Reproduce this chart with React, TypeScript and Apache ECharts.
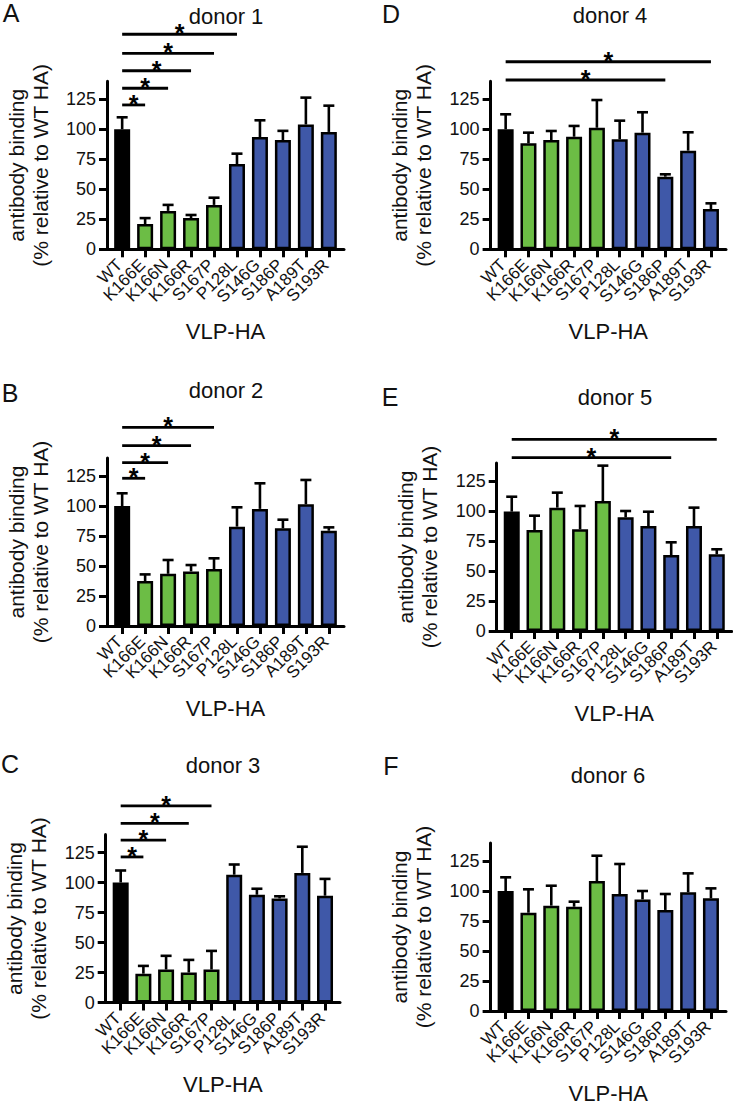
import React, { useEffect, useRef } from "react";
import * as echarts from "echarts";

const categories = ["WT", "K166E", "K166N", "K166R", "S167P", "P128L", "S146G", "S186P", "A189T", "S193R"];
const colorGroups = ["wt", "green", "green", "green", "green", "blue", "blue", "blue", "blue", "blue"];
const yTickValues = [0, 25, 50, 75, 100, 125];
const xTickValues = [0, 1, 2, 3, 4, 5, 6, 7, 8, 9];

const donor1Values = [100, 21, 32, 26, 37, 71, 93.5, 91, 104, 97.8];
const donor1Errors = [10, 5, 5, 2.6, 6, 8.7, 14, 7.7, 22.4, 21.9];
const donor1Sig = [[0, 1, 120.3], [0, 2, 134.2], [0, 3, 148.8], [0, 4, 163.3], [0, 5, 179.2]];

const donor2Values = [100, 37.5, 43.5, 45.5, 47.5, 82.8, 97.6, 81.4, 101.4, 79.4];
const donor2Errors = [10.6, 5.5, 11.5, 5.3, 8.9, 16.1, 21.3, 7.2, 20.3, 2.8];
const donor2Sig = [[0, 1, 123.1], [0, 2, 136.1], [0, 3, 150.3], [0, 4, 165.6]];

const donor3Values = [100, 24, 27.5, 25, 27.5, 106.5, 89.8, 86.7, 108, 89];
const donor3Errors = [10, 6.5, 11.4, 10.5, 15.5, 8.5, 5, 1.8, 21.8, 14];
const donor3Sig = [[0, 1, 121.3], [0, 2, 135.3], [0, 3, 149.2], [0, 4, 163.8]];

const donor4Values = [100, 88.3, 91, 93.8, 101.3, 91.7, 97.2, 60.5, 82.2, 33.6];
const donor4Errors = [12.5, 8.9, 7.6, 9, 23.1, 15.5, 17, 2, 15.3, 4.7];
const donor4Sig = [[0, 7, 141.1], [0, 9, 156.3]];

const donor5Values = [99.5, 84.2, 102.8, 84.7, 108.3, 94.7, 87.5, 63.3, 87.5, 63.9];
const donor5Errors = [12.4, 11.9, 12.5, 19.5, 29.5, 5.3, 11.9, 10.6, 15.3, 4.2];
const donor5Sig = [[0, 7, 144.4], [0, 9, 159.75]];

const donor6Values = [100, 81.9, 87.8, 86.9, 108.3, 97.5, 93, 84.2, 98.9, 93.9];
const donor6Errors = [11.4, 19.5, 16.6, 4.2, 21.1, 25, 7, 13.3, 15.8, 8.3];
const donor6Sig: number[][] = [];

const FONT = "'Liberation Sans', Arial, Helvetica, sans-serif";
const COLORS: Record<string, string> = { wt: "#000000", green: "#6cbd45", blue: "#3f58a8" };
const X_MIN = -0.66;
const X_MAX = 9.66;

const panels = [
  { letter: "A", title: "donor 1", values: donor1Values, errors: donor1Errors, sig: donor1Sig,
    grid: { left: 107, top: 81.3, width: 237, height: 168 }, titlePos: [226, 16], letterPos: [11, 13] },
  { letter: "B", title: "donor 2", values: donor2Values, errors: donor2Errors, sig: donor2Sig,
    grid: { left: 107, top: 458, width: 237, height: 168 }, titlePos: [226, 390], letterPos: [10, 393] },
  { letter: "C", title: "donor 3", values: donor3Values, errors: donor3Errors, sig: donor3Sig,
    grid: { left: 105.7, top: 834.5, width: 234.3, height: 168 }, titlePos: [223, 765], letterPos: [10, 764] },
  { letter: "D", title: "donor 4", values: donor4Values, errors: donor4Errors, sig: donor4Sig,
    grid: { left: 490.6, top: 81.3, width: 235.4, height: 168 }, titlePos: [610, 15], letterPos: [391, 14] },
  { letter: "E", title: "donor 5", values: donor5Values, errors: donor5Errors, sig: donor5Sig,
    grid: { left: 496.7, top: 463, width: 235.1, height: 168 }, titlePos: [615, 397], letterPos: [390, 397] },
  { letter: "F", title: "donor 6", values: donor6Values, errors: donor6Errors, sig: donor6Sig,
    grid: { left: 490.6, top: 843, width: 235.4, height: 168 }, titlePos: [608, 775], letterPos: [391, 766] },
];

function buildOption() {
  const grid: any[] = [];
  const xAxis: any[] = [];
  const yAxis: any[] = [];
  const series: any[] = [];
  const graphic: any[] = [];
  const n = panels.length;

  // main grids (bars, value x axis)
  panels.forEach((p) => grid.push({ ...p.grid }));
  // label grids: category bands aligned with the value-axis ticks
  panels.forEach((p) => {
    const u = p.grid.width / (X_MAX - X_MIN);
    grid.push({
      left: p.grid.left + (-0.5 - X_MIN) * u,
      width: categories.length * u,
      top: p.grid.top,
      height: p.grid.height,
    });
  });

  panels.forEach((p, i) => {
    xAxis.push({
      type: "value",
      gridIndex: i,
      min: X_MIN,
      max: X_MAX,
      name: "VLP-HA",
      nameLocation: "middle",
      nameGap: 71,
      nameTextStyle: { fontFamily: FONT, fontSize: 22, color: "#111" },
      splitLine: { show: false },
      axisLine: { show: true, onZero: false, lineStyle: { color: "#000", width: 3 } },
      axisTick: { show: true, customValues: xTickValues, length: 8, lineStyle: { color: "#000", width: 3 } },
      axisLabel: { show: false },
    });
    yAxis.push({
      type: "value",
      gridIndex: i,
      min: 0,
      max: 140,
      name: "antibody binding\n(% relative to WT HA)",
      nameLocation: "middle",
      nameGap: 55,
      nameTextStyle: { fontFamily: FONT, fontSize: 21, lineHeight: 24, color: "#111" },
      splitLine: { show: false },
      axisLine: { show: true, onZero: false, lineStyle: { color: "#000", width: 3 } },
      axisTick: { show: true, customValues: yTickValues, length: 8, lineStyle: { color: "#000", width: 3 } },
      axisLabel: { customValues: yTickValues, showMinLabel: true, margin: 11, fontFamily: FONT, fontSize: 18, color: "#111" },
    });
  });

  panels.forEach((p, i) => {
    xAxis.push({
      type: "category",
      gridIndex: n + i,
      data: categories,
      axisLine: { show: false },
      axisTick: { show: false },
      splitLine: { show: false },
      axisLabel: {
        interval: 0,
        rotate: 45,
        margin: 10,
        padding: [0, 4, 0, 0],
        fontFamily: FONT,
        fontSize: 17,
        color: "#111",
      },
    });
    yAxis.push({ type: "value", gridIndex: n + i, show: false, min: 0, max: 140 });
  });

  panels.forEach((p, i) => {
    series.push({
      type: "bar",
      xAxisIndex: i,
      yAxisIndex: i,
      barWidth: 16,
      data: p.values.map((v, k) => ({
        value: [k, v],
        itemStyle: { color: COLORS[colorGroups[k]], borderColor: "#000", borderWidth: 2.5 },
      })),
      z: 2,
    });

    series.push({
      type: "custom",
      xAxisIndex: i,
      yAxisIndex: i,
      clip: false,
      z: 3,
      encode: { x: 0, y: 1 },
      data: p.values.map((v, k) => [k, v, p.errors[k]]),
      renderItem: (params: any, api: any) => {
        const x = api.value(0);
        const v = api.value(1);
        const e = api.value(2);
        const p0 = api.coord([x, v]);
        const p1 = api.coord([x, v + e]);
        const st = { stroke: "#000", lineWidth: 2.6 };
        return {
          type: "group",
          children: [
            { type: "line", shape: { x1: p0[0], y1: p0[1], x2: p1[0], y2: p1[1] }, style: st },
            { type: "line", shape: { x1: p1[0] - 5.5, y1: p1[1], x2: p1[0] + 5.5, y2: p1[1] }, style: st },
          ],
        };
      },
    });

    if (p.sig.length) {
      series.push({
        type: "custom",
        xAxisIndex: i,
        yAxisIndex: i,
        clip: false,
        z: 3,
        encode: { x: [0, 1], y: 2 },
        data: p.sig,
        renderItem: (params: any, api: any) => {
          const a = api.coord([api.value(0), api.value(2)]);
          const b = api.coord([api.value(1), api.value(2)]);
          return {
            type: "group",
            children: [
              { type: "line", shape: { x1: a[0], y1: a[1], x2: b[0], y2: b[1] }, style: { stroke: "#000", lineWidth: 2.8 } },
              {
                type: "text",
                x: (a[0] + b[0]) / 2,
                y: a[1] - 1,
                style: {
                  text: "*",
                  fontFamily: FONT,
                  fontSize: 25,
                  fontWeight: "bold",
                  fill: "#000",
                  align: "center",
                  textAlign: "center",
                  verticalAlign: "middle",
                  textVerticalAlign: "middle",
                },
              },
            ],
          };
        },
      });
    }

    graphic.push({
      type: "text",
      x: p.titlePos[0],
      y: p.titlePos[1],
      style: {
        text: p.title, fontFamily: FONT, fontSize: 22, fill: "#111",
        align: "center", textAlign: "center", verticalAlign: "middle", textVerticalAlign: "middle",
      },
    });
    graphic.push({
      type: "text",
      x: p.letterPos[0],
      y: p.letterPos[1],
      style: {
        text: p.letter, fontFamily: FONT, fontSize: 25, fill: "#111",
        align: "center", textAlign: "center", verticalAlign: "middle", textVerticalAlign: "middle",
      },
    });
  });

  return {
    animation: false,
    backgroundColor: "#ffffff",
    grid,
    xAxis,
    yAxis,
    series,
    graphic,
  };
}

export default function App() {
  const ref = useRef<HTMLDivElement>(null);
  useEffect(() => {
    if (!ref.current) return;
    const chart = echarts.init(ref.current, null, { renderer: "svg" });
    chart.setOption(buildOption() as any);
    return () => chart.dispose();
  }, []);
  return (
    <div
      ref={ref}
      style={{ position: "absolute", left: 0, top: 0, width: 733, height: 1111, background: "#fff" }}
    />
  );
}
